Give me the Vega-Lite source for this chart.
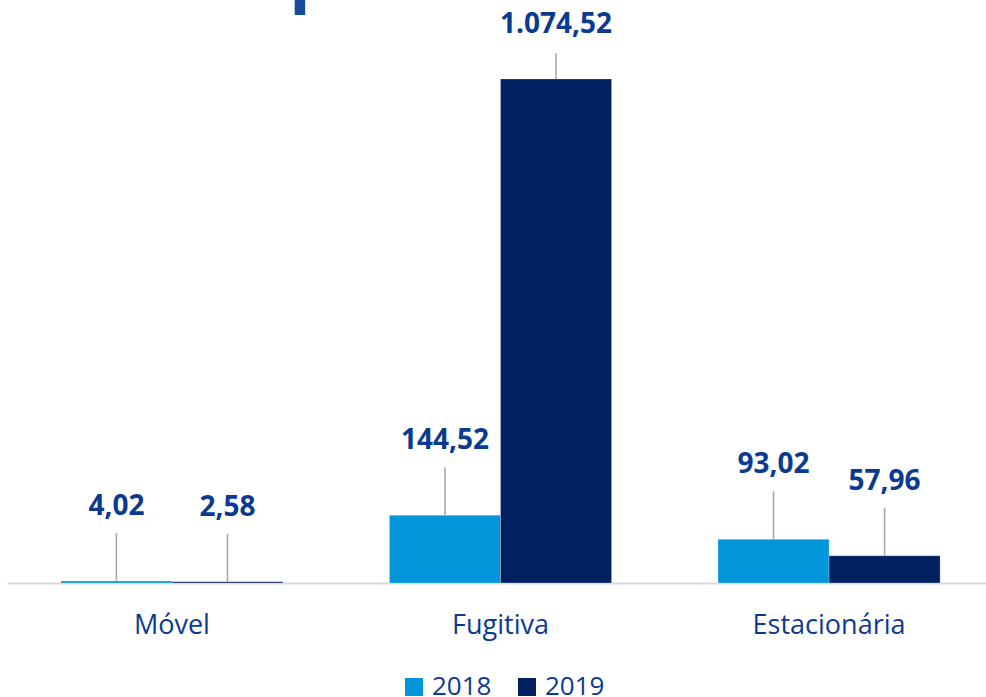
{
  "$schema": "https://vega.github.io/schema/vega-lite/v6.json",
  "width": 987,
  "height": 583,
  "autosize": "none",
  "padding": {"left": 7, "top": 0, "right": 0, "bottom": 114},
  "background": "white",
  "title": {
    "text": "Escopo 1",
    "anchor": "start",
    "frame": "group",
    "orient": "top",
    "baseline": "alphabetic",
    "offset": 0,
    "dx": 129,
    "dy": 68,
    "font": "Open Sans",
    "fontSize": 70,
    "fontWeight": "bold",
    "color": "#1a4a9e"
  },
  "config": {
    "view": {"stroke": null},
    "locale": {
      "number": {"decimal": ",", "thousands": ".", "grouping": [3], "currency": ["R$", ""]}
    },
    "font": "Open Sans"
  },
  "data": {
    "values": [
      {"categoria": "Móvel", "ano": "2018", "valor": 4.02},
      {"categoria": "Móvel", "ano": "2019", "valor": 2.58},
      {"categoria": "Fugitiva", "ano": "2018", "valor": 144.52},
      {"categoria": "Fugitiva", "ano": "2019", "valor": 1074.52},
      {"categoria": "Estacionária", "ano": "2018", "valor": 93.02},
      {"categoria": "Estacionária", "ano": "2019", "valor": 57.96}
    ]
  },
  "encoding": {
    "x": {
      "field": "categoria",
      "type": "nominal",
      "sort": ["Móvel", "Fugitiva", "Estacionária"],
      "scale": {"paddingInner": 0.324, "paddingOuter": 0.164},
      "axis": {
        "title": null,
        "labelAngle": 0,
        "labelFont": "Open Sans",
        "labelFontSize": 27,
        "labelColor": "#0b3a91",
        "labelPadding": 29,
        "ticks": false,
        "domainColor": "#d9d9d9",
        "domainWidth": 2,
        "grid": false
      }
    },
    "xOffset": {
      "field": "ano",
      "type": "nominal",
      "scale": {"paddingInner": 0, "paddingOuter": 0}
    },
    "y": {
      "field": "valor",
      "type": "quantitative",
      "scale": {"domain": [0, 1243], "nice": false},
      "axis": null
    }
  },
  "layer": [
    {
      "mark": {"type": "bar", "stroke": "white", "strokeWidth": 0.5, "strokeOpacity": 0.5},
      "encoding": {
        "color": {
          "field": "ano",
          "type": "nominal",
          "scale": {"domain": ["2018", "2019"], "range": ["#0096d9", "#002060"]},
          "legend": {
            "title": null,
            "orient": "none",
            "legendX": 394,
            "legendY": 674,
            "padding": 0,
            "direction": "horizontal",
            "symbolType": "square",
            "symbolSize": 324,
            "symbolStrokeWidth": 0,
            "labelFont": "Open Sans",
            "labelFontSize": 26,
            "labelColor": "#0b3a91",
            "labelOffset": 5,
            "columnPadding": 22
          }
        }
      }
    },
    {
      "transform": [{"filter": "datum.valor < 1000"}],
      "mark": {"type": "rule", "color": "#a6a6a6", "strokeWidth": 1.5, "y2Offset": -48},
      "encoding": {"y2": {"field": "valor"}}
    },
    {
      "transform": [{"filter": "datum.valor >= 1000"}],
      "mark": {"type": "rule", "color": "#a6a6a6", "strokeWidth": 1.5, "y2Offset": -26},
      "encoding": {"y2": {"field": "valor"}}
    },
    {
      "transform": [{"filter": "datum.valor < 1000"}],
      "mark": {"type": "text", "baseline": "middle", "dy": -74, "font": "Open Sans", "fontSize": 28, "fontWeight": "bold", "color": "#0b3a91"},
      "encoding": {"text": {"field": "valor", "type": "quantitative", "format": ",.2f"}}
    },
    {
      "transform": [{"filter": "datum.valor >= 1000"}],
      "mark": {"type": "text", "baseline": "middle", "dy": -54, "font": "Open Sans", "fontSize": 28, "fontWeight": "bold", "color": "#0b3a91"},
      "encoding": {"text": {"field": "valor", "type": "quantitative", "format": ",.2f"}}
    }
  ]
}
